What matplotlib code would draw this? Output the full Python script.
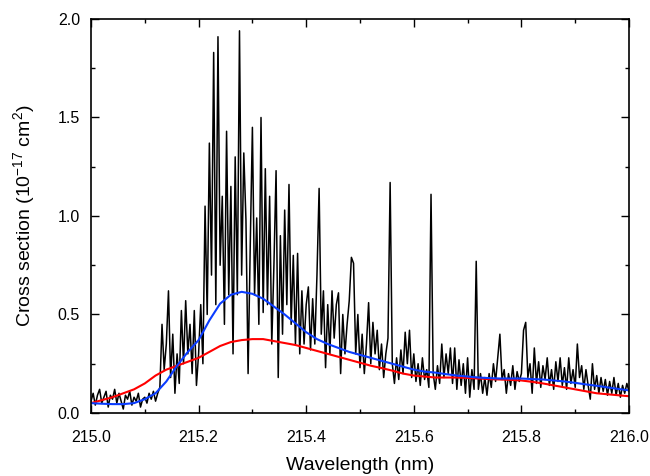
import matplotlib
matplotlib.use('Agg')
import matplotlib.pyplot as plt
from matplotlib.ticker import MultipleLocator, FormatStrFormatter
import numpy as np

plt.rcParams['font.family'] = ['Liberation Sans', 'DejaVu Sans']
plt.rcParams['mathtext.fontset'] = 'custom'
plt.rcParams['mathtext.rm'] = 'Liberation Sans'
plt.rcParams['mathtext.it'] = 'Liberation Sans'

# measured spectrum, 0.004 nm sampling from 215.0 to 216.0
wl = np.linspace(215.0, 216.0, 251)
xs = np.array([
    0.06, 0.10, 0.04, 0.09, 0.12, 0.05, 0.08, 0.11, 0.03, 0.09, 0.07, 0.12, 0.05,
    0.10, 0.06, 0.02, 0.09, 0.07, 0.11, 0.04, 0.08, 0.06, 0.10, 0.03, 0.07,
    0.08, 0.05, 0.10, 0.07, 0.11, 0.06, 0.10, 0.13, 0.45, 0.22, 0.35, 0.62, 0.18,
    0.40, 0.10, 0.30, 0.15, 0.52, 0.25, 0.57, 0.30, 0.45, 0.20, 0.52, 0.14,
    0.30, 0.55, 0.25, 1.05, 0.50, 1.37, 0.70, 1.83, 0.55, 1.91, 0.75, 1.10, 0.45,
    1.43, 0.60, 1.15, 0.30, 1.30, 0.60, 1.94, 0.70, 1.32, 0.98, 0.20, 0.85,
    1.45, 0.60, 0.99, 0.45, 1.50, 0.51, 1.24, 0.55, 1.10, 0.35, 0.75, 1.23, 0.18,
    0.90, 0.40, 1.03, 0.55, 1.16, 0.45, 0.80, 0.35, 0.81, 0.30, 0.62, 0.35,
    0.55, 0.64, 0.32, 0.58, 0.35, 0.70, 1.14, 0.40, 0.62, 0.23, 0.55, 0.30, 0.62,
    0.38, 0.55, 0.61, 0.20, 0.50, 0.30, 0.45, 0.57, 0.79, 0.76, 0.30, 0.50,
    0.23, 0.40, 0.20, 0.35, 0.56, 0.25, 0.46, 0.30, 0.42, 0.22, 0.35, 0.18, 0.30,
    0.38, 1.17, 0.25, 0.15, 0.28, 0.17, 0.32, 0.20, 0.41, 0.25, 0.42, 0.18,
    0.30, 0.16, 0.25, 0.14, 0.28, 0.17, 0.22, 0.13, 1.11, 0.20, 0.12, 0.24, 0.15,
    0.35, 0.18, 0.30, 0.20, 0.33, 0.15, 0.33, 0.12, 0.27, 0.14, 0.25, 0.10,
    0.28, 0.08, 0.22, 0.12, 0.77, 0.12, 0.20, 0.10, 0.18, 0.09, 0.20, 0.13, 0.25,
    0.16, 0.28, 0.40, 0.17, 0.22, 0.10, 0.20, 0.14, 0.24, 0.12, 0.21, 0.16,
    0.20, 0.42, 0.46, 0.18, 0.25, 0.10, 0.33, 0.15, 0.26, 0.13, 0.24, 0.17, 0.28,
    0.14, 0.22, 0.12, 0.26, 0.16, 0.28, 0.14, 0.23, 0.12, 0.28, 0.15, 0.22,
    0.13, 0.35, 0.18, 0.24, 0.12, 0.22, 0.14, 0.07, 0.25, 0.12, 0.19, 0.10, 0.18,
    0.11, 0.17, 0.09, 0.16, 0.10, 0.18, 0.09, 0.15, 0.08, 0.14, 0.10, 0.15,
    0.11])

# smoothed curves, 0.02 nm nodes
wl_s = np.linspace(215.0, 216.0, 51)
blue = [0.05, 0.047, 0.045, 0.045, 0.05, 0.07, 0.10, 0.16, 0.24, 0.31,
        0.37, 0.47, 0.555, 0.60, 0.615, 0.605, 0.58, 0.54, 0.50, 0.455,
        0.41, 0.375, 0.35, 0.33, 0.31, 0.295, 0.28, 0.265, 0.25, 0.235,
        0.22, 0.21, 0.205, 0.197, 0.19, 0.185, 0.18, 0.177, 0.175, 0.175,
        0.175, 0.172, 0.17, 0.165, 0.16, 0.153, 0.145, 0.138, 0.13, 0.122,
        0.115]
red = [0.05, 0.065, 0.08, 0.10, 0.12, 0.15, 0.19, 0.22, 0.24, 0.26,
       0.28, 0.31, 0.34, 0.36, 0.37, 0.375, 0.375, 0.365, 0.355, 0.345,
       0.33, 0.315, 0.30, 0.285, 0.27, 0.255, 0.24, 0.228, 0.215, 0.20,
       0.19, 0.185, 0.18, 0.18, 0.18, 0.178, 0.175, 0.172, 0.17, 0.168,
       0.165, 0.158, 0.15, 0.14, 0.13, 0.12, 0.11, 0.10, 0.095, 0.09,
       0.085]

fig = plt.figure(figsize=(6.5, 4.76), dpi=100)
ax = fig.add_axes([0.14, 0.1324, 0.8277, 0.8277])
ax.plot(wl, xs, color='black', lw=1.1)
ax.plot(wl_s, red, color='#ff0000', lw=1.5)
ax.plot(wl_s, blue, color='#0a3cff', lw=1.5)

ax.set_xlim(215.0, 216.0)
ax.set_ylim(0, 2.0)
ax.xaxis.set_major_locator(MultipleLocator(0.2))
ax.xaxis.set_minor_locator(MultipleLocator(0.1))
ax.yaxis.set_major_locator(MultipleLocator(0.5))
ax.yaxis.set_minor_locator(MultipleLocator(0.25))
ax.xaxis.set_major_formatter(FormatStrFormatter('%.1f'))
ax.yaxis.set_major_formatter(FormatStrFormatter('%.1f'))
ax.tick_params(which='both', direction='in', top=True, right=True, labelsize=11.5, width=1)
ax.tick_params(which='major', length=6)
ax.tick_params(which='minor', length=3)
ax.tick_params(axis='x', pad=12)
ax.tick_params(axis='y', pad=8)
for s in ax.spines.values():
    s.set_linewidth(1.2)
ax.set_xlabel('Wavelength (nm)', fontsize=14, labelpad=9)
ax.set_ylabel('Cross section (10$^{-17}$ cm$^{2}$)', fontsize=14, labelpad=15)

fig.savefig('out.png', dpi=100)
